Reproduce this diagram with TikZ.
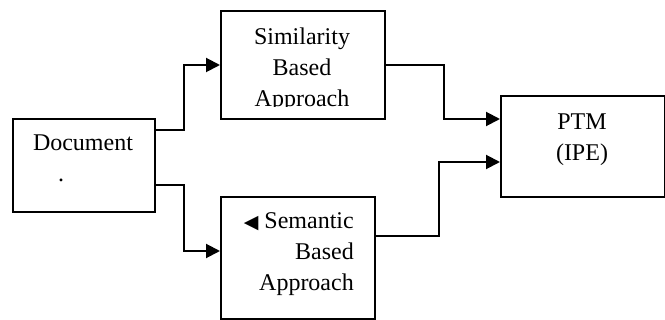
\documentclass[tikz,border=0pt]{standalone}
\usepackage{fontspec}
\setmainfont{Liberation Serif}
\newfontfamily\symfont{DejaVu Sans}
\usetikzlibrary{arrows.meta}
\begin{document}
\begin{tikzpicture}[x=1pt,y=1pt,
  box/.style={draw=black,line width=2pt,inner sep=0pt,anchor=north west},
  lbl/.style={inner sep=0pt,font=\fontsize{24}{31}\selectfont},
  arr/.style={line width=2pt,-{Triangle[length=14pt,width=14pt]}}]
\useasboundingbox (0,0) rectangle (665,-320);
% boxes
\node[box,minimum width=142pt,minimum height=93pt] (doc) at (12,-118) {};
\node[box,minimum width=164pt,minimum height=108pt] (sim) at (220,-10) {};
\node[box,minimum width=154pt,minimum height=122pt] (sem) at (220,-196) {};
\node[box,minimum width=164pt,minimum height=101pt] (ptm) at (500,-95) {};
% texts
\node[lbl,align=left] (doctext) at (83,-158) {Document\\\hspace*{25pt}.};
\begin{scope}
\clip (220,-10) rectangle (384,-107);
\node[lbl,align=center] (simtext) at (302,-70) {Similarity\\Based\\Approach};
\end{scope}
\node[lbl,align=right,anchor=east] (semtext) at (354,-254) {{\symfont\fontsize{19}{31}\selectfont ◀} Semantic\\Based\\Approach};
\node[lbl,align=center] (ptmtext) at (582,-140) {PTM\\(IPE)};
% connectors
\draw[arr] ([yshift=35.5pt]doc.east) -- ++(28pt,0) |- (sim.west);
\draw[arr] ([yshift=-19.5pt]doc.east) -- ++(28pt,0) |- ([yshift=7pt]sem.west);
\draw[arr] (sim.east) -- ++(58pt,0) |- ([yshift=27.5pt]ptm.west);
\draw[arr] ([yshift=22pt]sem.east) -- ++(63pt,0) |- ([yshift=-15.5pt]ptm.west);
\end{tikzpicture}
\end{document}
